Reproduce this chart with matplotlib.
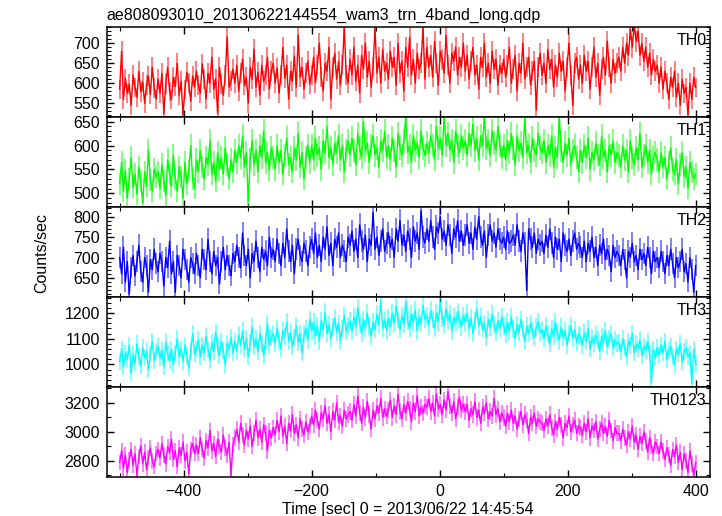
import numpy as np
import matplotlib
matplotlib.use("Agg")
import matplotlib.pyplot as plt
from matplotlib.ticker import MultipleLocator

plt.rcParams['font.family'] = ['Liberation Sans', 'DejaVu Sans']

# time bins (sec), 3 s steps from -500 to 400
t = np.arange(-500, 401, 3)

th0 = [
    585, 680, 560, 612, 575, 598, 545, 620, 590, 565, 630, 578, 603, 550, 595, 618, 572, 640, 588, 560,
    610, 575, 625, 524, 598, 640, 580, 560, 615, 592, 650, 570, 605, 520, 585, 628, 600, 555, 618, 590,
    630, 595, 575, 648, 610, 560, 625, 600, 665, 585, 612, 525, 640, 598, 570, 620, 716, 590, 605, 635,
    600, 645, 580, 625, 660, 595, 615, 550, 640, 610, 685, 590, 628, 570, 645, 605, 620, 665, 585, 630,
    650, 600, 638, 575, 620, 690, 612, 645, 560, 630, 605, 668, 590, 720, 615, 640, 585, 625, 655, 598,
    620, 665, 600, 645, 700, 615, 580, 650, 630, 690, 560, 640, 675, 610, 655, 595, 645, 738, 620, 600,
    660, 620, 690, 605, 645, 575, 670, 635, 700, 615, 655, 590, 640, 738, 625, 665, 600, 685, 630, 650,
    610, 680, 640, 665, 595, 700, 625, 655, 580, 690, 640, 715, 620, 660, 600, 675, 635, 650, 740, 610,
    690, 640, 670, 615, 705, 650, 595, 680, 660, 625, 720, 645, 600, 675, 655, 690, 620, 665, 640, 700,
    630, 670, 610, 655, 690, 620, 645, 585, 665, 640, 700, 615, 650, 600, 680, 635, 660, 595, 645, 625,
    660, 615, 645, 690, 600, 635, 670, 580, 650, 625, 700, 610, 640, 665, 595, 630, 655, 533, 640, 675,
    620, 650, 600, 685, 635, 660, 590, 645, 615, 675, 630, 655, 580, 640, 700, 620, 545, 650, 665, 610,
    645, 600, 670, 630, 655, 585, 640, 690, 615, 650, 570, 635, 665, 620, 705, 640, 600, 660, 625, 650,
    665, 630, 690, 650, 700, 670, 735, 690, 748, 705, 730, 670, 700, 655, 690, 640, 675, 620, 660, 630,
    645, 600, 640, 585, 630, 600, 560, 615, 590, 630, 565, 600, 545, 610, 575, 590, 520, 600, 560, 615,
    590,
]

th1 = [
    520, 565, 505, 548, 490, 530, 575, 512, 540, 498, 555, 525, 480, 545, 515, 590, 528, 505, 550, 535,
    545, 510, 560, 525, 495, 570, 540, 515, 580, 530, 505, 555, 535, 490, 565, 520, 548, 600, 530, 510,
    570, 545, 590, 555, 530, 575, 560, 610, 540, 565, 525, 585, 550, 575, 540, 595, 560, 530, 570, 545,
    590, 565, 600, 575, 620, 555, 585, 483, 570, 610, 560, 590, 545, 600, 575, 630, 565, 585, 550, 595,
    575, 550, 600, 565, 590, 540, 580, 615, 560, 575, 545, 595, 570, 625, 555, 585, 530, 575, 600, 565,
    600, 570, 615, 580, 595, 550, 610, 585, 640, 575, 595, 560, 605, 585, 620, 570, 600, 545, 590, 610,
    580, 615, 590, 560, 625, 595, 575, 650, 590, 605, 565, 600, 620, 580, 595, 555, 610, 590, 630, 575,
    600, 570, 615, 590, 555, 625, 595, 580, 610, 660, 585, 600, 565, 620, 590, 605, 575, 630, 595, 580,
    605, 585, 620, 600, 570, 640, 595, 615, 580, 660, 600, 625, 590, 610, 565, 630, 600, 585, 620, 595,
    610, 580, 625, 600, 645, 590, 615, 570, 620, 600, 660, 595, 610, 580, 630, 605, 590, 640, 600, 575,
    600, 570, 610, 585, 625, 595, 560, 620, 590, 605, 575, 660, 585, 600, 565, 615, 590, 580, 625, 595,
    585, 610, 565, 600, 580, 620, 555, 595, 575, 660, 590, 565, 605, 580, 615, 560, 590, 600, 575, 545,
    590, 565, 600, 575, 615, 550, 585, 570, 605, 580, 560, 620, 575, 590, 545, 600, 580, 610, 565, 585,
    580, 555, 600, 570, 590, 545, 610, 575, 560, 595, 570, 625, 555, 580, 600, 565, 590, 540, 575, 585,
    570, 545, 585, 555, 575, 530, 565, 595, 550, 540, 570, 520, 560, 585, 535, 555, 510, 565, 545, 530,
    540,
]

th2 = [
    700, 660, 725, 640, 690, 610, 675, 705, 655, 690, 730, 665, 640, 700, 680, 615, 695, 670, 720, 685,
    665, 710, 690, 630, 700, 675, 740, 660, 690, 615, 705, 680, 650, 720, 695, 670, 640, 700, 685, 660,
    710, 680, 650, 720, 695, 670, 745, 690, 660, 715, 680, 700, 635, 690, 725, 670, 705, 680, 655, 710,
    690, 730, 700, 675, 760, 705, 680, 720, 650, 710, 690, 740, 700, 665, 725, 695, 715, 680, 750, 700,
    720, 690, 745, 710, 680, 735, 700, 770, 715, 690, 730, 660, 720, 745, 705, 690, 735, 715, 680, 725,
    745, 710, 760, 700, 730, 690, 750, 720, 775, 705, 735, 680, 745, 725, 760, 700, 730, 715, 690, 750,
    730, 765, 715, 745, 700, 780, 740, 720, 755, 690, 745, 730, 810, 720, 750, 705, 740, 770, 715, 735,
    760, 725, 745, 700, 770, 740, 790, 730, 755, 715, 765, 745, 700, 775, 740, 760, 720, 815, 750, 735,
    770, 740, 790, 750, 720, 775, 760, 800, 745, 765, 730, 780, 755, 710, 770, 750, 790, 740, 765, 730,
    755, 780, 735, 760, 720, 775, 745, 800, 750, 730, 765, 700, 755, 780, 740, 760, 725, 770, 745, 735,
    750, 720, 765, 735, 740, 755, 730, 780, 740, 715, 760, 735, 620, 770, 745, 725, 760, 710, 745, 730,
    740, 710, 755, 725, 770, 735, 700, 750, 720, 745, 690, 760, 730, 715, 745, 705, 740, 760, 720, 735,
    725, 700, 740, 690, 735, 715, 750, 700, 725, 680, 730, 710, 745, 695, 720, 705, 665, 730, 700, 715,
    705, 680, 720, 695, 650, 715, 700, 735, 690, 705, 670, 720, 695, 710, 680, 725, 700, 660, 715, 690,
    700, 675, 715, 690, 660, 705, 680, 720, 685, 650, 700, 675, 690, 720, 665, 685, 640, 700, 670, 615,
    680,
]

th3 = [
    1010, 1060, 990, 1045, 1020, 1075, 965, 1040, 1005, 1080, 1030, 995, 1065, 1025, 1050, 980, 1040, 1090, 1015, 1050,
    1070, 1025, 1055, 990, 1085, 1040, 1015, 1060, 1000, 1045, 1100, 1030, 1060, 1010, 1075, 1035, 985, 1055, 1120, 1040,
    1060, 1095, 1030, 1075, 1045, 1110, 1060, 1015, 1085, 1050, 1125, 1070, 1035, 1090, 1055, 1000, 1080, 1060, 1105, 1045,
    1090, 1050, 1115, 1075, 1130, 1060, 1100, 1030, 1085, 1145, 1070, 1100, 1050, 1120, 1080, 1035, 1095, 1160, 1075, 1105,
    1120, 1080, 1140, 1095, 1060, 1130, 1110, 1165, 1090, 1125, 1070, 1105, 1150, 1085, 1120, 1045, 1115, 1140, 1095, 1175,
    1130, 1165, 1110, 1150, 1090, 1170, 1135, 1205, 1120, 1155, 1100, 1145, 1180, 1125, 1160, 1095, 1140, 1190, 1130, 1150,
    1170, 1130, 1185, 1145, 1220, 1160, 1120, 1175, 1140, 1200, 1150, 1110, 1165, 1135, 1195, 1155, 1250, 1140, 1175, 1130,
    1180, 1145, 1200, 1160, 1225, 1175, 1135, 1190, 1155, 1245, 1170, 1140, 1195, 1165, 1210, 1130, 1185, 1160, 1230, 1175,
    1190, 1150, 1210, 1175, 1140, 1200, 1165, 1240, 1180, 1155, 1215, 1170, 1195, 1130, 1185, 1160, 1205, 1175, 1145, 1190,
    1165, 1200, 1140, 1180, 1120, 1170, 1215, 1150, 1185, 1135, 1160, 1105, 1175, 1145, 1195, 1155, 1125, 1170, 1140, 1185,
    1150, 1115, 1165, 1130, 1185, 1140, 1100, 1155, 1125, 1175, 1135, 1090, 1150, 1120, 1160, 1130, 1105, 1145, 1165, 1125,
    1135, 1100, 1150, 1115, 1080, 1140, 1110, 1165, 1125, 1095, 1145, 1105, 1130, 1075, 1120, 1150, 1100, 1135, 1085, 1115,
    1110, 1075, 1125, 1090, 1140, 1060, 1105, 1080, 1115, 1095, 1050, 1110, 1085, 1130, 1070, 1100, 1120, 1065, 1095, 1080,
    1085, 1050, 1100, 1065, 1030, 1090, 1075, 1120, 1045, 1080, 1060, 1095, 1035, 1070, 1055, 1090, 1040, 930, 1060, 1025,
    1065, 1035, 1075, 1045, 1090, 1020, 1055, 1070, 1030, 1000, 1060, 1040, 1080, 1010, 1050, 1065, 1030, 1045, 925, 1060,
    1000,
]

th0123 = [
    2790, 2870, 2750, 2840, 2720, 2810, 2880, 2770, 2850, 2700, 2830, 2905, 2780, 2860, 2740, 2820, 2890, 2800, 2760, 2850,
    2880, 2820, 2920, 2840, 2780, 2900, 2860, 2950, 2810, 2870, 2760, 2890, 2840, 2930, 2800, 2860, 2710, 2880, 2920, 2850,
    2910, 2850, 2960, 2880, 2820, 2940, 2890, 3010, 2870, 2920, 2830, 2950, 2900, 2860, 2980, 2890, 2840, 2930, 2700, 2910,
    2960, 3020, 2930, 3060, 2980, 2910, 3010, 2950, 3040, 2900, 2990, 3080, 2960, 3020, 2930, 3050, 2990, 2870, 3010, 2960,
    3030, 2980, 3080, 3000, 3110, 2970, 3040, 2920, 3060, 3010, 3120, 2990, 3050, 2960, 3090, 3020, 2980, 3070, 3000, 3040,
    3110, 3050, 3150, 3080, 3020, 3130, 3090, 3180, 3060, 3120, 3000, 3140, 3080, 3200, 3070, 3110, 3040, 3150, 3090, 3120,
    3140, 3080, 3190, 3110, 3250, 3130, 3060, 3170, 3100, 3210, 3120, 3020, 3150, 3090, 3180, 3130, 3230, 3100, 3160, 3110,
    3150, 3220, 3100, 3180, 3120, 3260, 3140, 3090, 3190, 3130, 3210, 3160, 3070, 3200, 3140, 3250, 3110, 3170, 3130, 3190,
    3170, 3230, 3140, 3200, 3110, 3260, 3160, 3190, 3120, 3220, 3150, 3280, 3180, 3130, 3210, 3090, 3170, 3240, 3150, 3190,
    3140, 3190, 3080, 3160, 3120, 3210, 3100, 3150, 3060, 3170, 3130, 3200, 3090, 3140, 3110, 3230, 3120, 3160, 3070, 3130,
    3100, 3040, 3130, 3070, 3150, 3060, 3110, 3020, 3090, 3140, 3050, 3120, 3080, 2990, 3100, 3060, 3130, 3040, 3090, 3070,
    3060, 3010, 3090, 3040, 3120, 3030, 2980, 3070, 3020, 3100, 3050, 2960, 3060, 3030, 3110, 3000, 3050, 3080, 2990, 3040,
    3030, 2980, 3060, 3000, 3090, 2960, 3040, 3010, 3070, 2950, 3020, 3060, 2990, 3040, 2970, 3080, 3010, 2940, 3030, 2990,
    2990, 2940, 3020, 2960, 2910, 3000, 2950, 3040, 2930, 2980, 2880, 2970, 2920, 3000, 2940, 2860, 2960, 2900, 2850, 2930,
    2900, 2850, 2930, 2870, 2810, 2890, 2840, 2770, 2880, 2830, 2910, 2790, 2860, 2740, 2850, 2800, 2720, 2870, 2780, 2700,
    2790,
]

series = [th0, th1, th2, th3, th0123]
labels = ['TH0', 'TH1', 'TH2', 'TH3', 'TH0123']
colors = ['#ff0000', '#00ff00', '#0000ff', '#00ffff', '#ff00ff']
ylims = [(516, 741), (472, 660), (604, 824), (913, 1263), (2691, 3311)]
majors = [50, 50, 50, 100, 200]
minors = [10, 10, 10, 20, 100]

fig, axes = plt.subplots(5, 1, figsize=(7.22, 5.16), dpi=100, sharex=True,
                         gridspec_kw=dict(hspace=0))
fig.subplots_adjust(left=0.148, right=0.983, top=0.948, bottom=0.076)

for ax, y, lab, c, yl, mj, mn in zip(axes, series, labels, colors, ylims, majors, minors):
    y = np.array(y, dtype=float)
    err = np.sqrt(y)  # poisson error on 1 s bins
    ax.vlines(t, y - err, y + err, color=c, alpha=0.5, lw=1.4)
    ax.plot(t, y, color=c, lw=1.0)
    ax.set_ylim(*yl)
    ax.set_xlim(-520, 422)
    ax.yaxis.set_major_locator(MultipleLocator(mj))
    ax.yaxis.set_minor_locator(MultipleLocator(mn))
    ax.xaxis.set_major_locator(MultipleLocator(200))
    ax.xaxis.set_minor_locator(MultipleLocator(100))
    ax.tick_params(which='both', direction='in', top=True, right=True,
                   labelsize=11.5, pad=5)
    ax.tick_params(which='major', length=5, width=1)
    ax.tick_params(which='minor', length=3, width=0.8)
    for s in ax.spines.values():
        s.set_linewidth(1.1)
    ax.text(0.995, 0.93, lab, transform=ax.transAxes, ha='right', va='top',
            fontsize=11.5)

axes[-1].set_xlabel('Time [sec] 0 = 2013/06/22 14:45:54', fontsize=11.5, labelpad=2)
fig.text(0.058, 0.51, 'Counts/sec', rotation=90, ha='center', va='center', fontsize=11.5)
fig.text(0.148, 1 - 20 / 516, 'ae808093010_20130622144554_wam3_trn_4band_long.qdp',
         ha='left', va='baseline', fontsize=11.5)

fig.savefig('out.png', dpi=100)
